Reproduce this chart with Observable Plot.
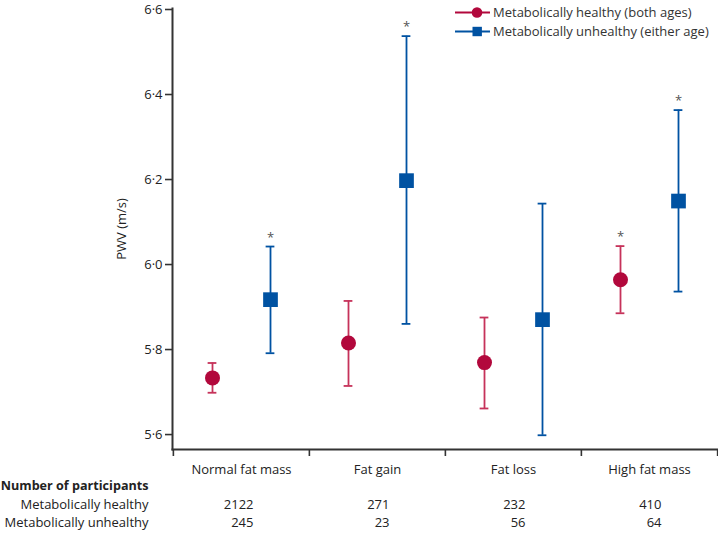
<!DOCTYPE html>
<html>
<head>
<meta charset="utf-8">
<script src="https://cdn.jsdelivr.net/npm/d3@7"></script>
<script src="https://cdn.jsdelivr.net/npm/@observablehq/plot@0.6"></script>
<style>
  html, body { margin: 0; padding: 0; background: #fff; }
</style>
</head>
<body>
<div id="chart"></div>
<script>
// ---- data ----
const categories = ["Normal fat mass", "Fat gain", "Fat loss", "High fat mass"];
const healthyMean = [5.731, 5.813, 5.767, 5.962];
const healthyLow = [5.696, 5.712, 5.659, 5.883];
const healthyHigh = [5.766, 5.912, 5.873, 6.041];
const healthySig = [false, false, false, true];
const unhealthyMean = [5.915, 6.195, 5.868, 6.147];
const unhealthyLow = [5.789, 5.858, 5.596, 5.934];
const unhealthyHigh = [6.040, 6.535, 6.141, 6.361];
const unhealthySig = [true, true, false, true];
const healthyN = [2122, 271, 232, 410];
const unhealthyN = [245, 23, 56, 64];
const yTicks = [5.6, 5.8, 6.0, 6.2, 6.4, 6.6];
const seriesNames = ["Metabolically healthy (both ages)", "Metabolically unhealthy (either age)"];
const rowLabels = ["Number of participants", "Metabolically healthy", "Metabolically unhealthy"];

// ---- build ----
const RED = "#b2083c", RED_BAR = "#c6325a", BLUE = "#0052a2";
const W = 718, H = 535, mL = 172, mR = 1, mT = 8, mB = 86;
const bw = (W - mL - mR) / categories.length;
const off = 29;
const FS = 13;

const healthy = categories.map((c, i) => ({c, m: healthyMean[i], lo: healthyLow[i], hi: healthyHigh[i], sig: healthySig[i], n: healthyN[i]}));
const unhealthy = categories.map((c, i) => ({c, m: unhealthyMean[i], lo: unhealthyLow[i], hi: unhealthyHigh[i], sig: unhealthySig[i], n: unhealthyN[i]}));
const fmt = d => d.toFixed(1).replace(".", "·");
const capInset = (bw - 9) / 2;

function series(data, color, barColor, dx, symbol, r) {
  return [
    Plot.ruleX(data, {x: "c", y1: "lo", y2: "hi", dx, stroke: barColor, strokeWidth: 1.8}),
    Plot.tickY(data, {x: "c", y: "lo", dx, stroke: barColor, strokeWidth: 1.8, insetLeft: capInset, insetRight: capInset}),
    Plot.tickY(data, {x: "c", y: "hi", dx, stroke: barColor, strokeWidth: 1.8, insetLeft: capInset, insetRight: capInset}),
    Plot.dot(data, {x: "c", y: "m", dx, fill: color, stroke: "none", symbol, r}),
    Plot.text(data.filter(d => d.sig), {x: "c", y: "hi", dx, dy: -9, text: () => "*", fill: "#555", fontSize: 13})
  ];
}

const plot = Plot.plot({
  width: W, height: H,
  marginLeft: mL, marginRight: mR, marginTop: mT, marginBottom: mB,
  style: {fontFamily: "'Open Sans', sans-serif", fontSize: FS + "px", color: "#222", background: "#fff", overflow: "visible"},
  x: {domain: categories, padding: 0, axis: null},
  y: {domain: [5.5625, 6.6], axis: null},
  marks: [
    Plot.axisY({ticks: yTicks, tickSize: 7, tickPadding: 3, tickFormat: fmt, label: "PWV (m/s)", labelAnchor: "center", labelArrow: "none", labelOffset: 56, stroke: "#333", strokeWidth: 1.6, fontSize: 13, dy: 1}),
    Plot.axisX({ticks: categories, tickSize: 7, dx: -bw / 2, tickFormat: () => "", label: null, stroke: "#333", strokeWidth: 1.6}),
    Plot.axisX({ticks: [categories[categories.length - 1]], tickSize: 7, dx: bw / 2, tickFormat: () => "", label: null, stroke: "#333", strokeWidth: 1.6}),
    Plot.axisX({tickSize: 0, tickPadding: 15, label: null, fontSize: FS}),
    Plot.frame({anchor: "left", stroke: "#333", strokeWidth: 2}),
    Plot.frame({anchor: "bottom", stroke: "#333", strokeWidth: 2}),
    ...series(healthy, RED, RED_BAR, -off, "circle", 7.5),
    ...series(unhealthy, BLUE, BLUE, off, "square", 8.3),
    Plot.text(healthy, {x: "c", frameAnchor: "bottom", text: d => String(d.n), textAnchor: "end", dx: 12, dy: 59, fontSize: FS}),
    Plot.text(unhealthy, {x: "c", frameAnchor: "bottom", text: d => String(d.n), textAnchor: "end", dx: 12, dy: 77, fontSize: FS}),
    Plot.text([rowLabels[0]], {frameAnchor: "bottom-left", text: d => d, textAnchor: "end", dx: -24, dy: 40, fontWeight: "bold", fontSize: 12.6}),
    Plot.text([rowLabels[1]], {frameAnchor: "bottom-left", text: d => d, textAnchor: "end", dx: -24, dy: 59, fontSize: FS}),
    Plot.text([rowLabels[2]], {frameAnchor: "bottom-left", text: d => d, textAnchor: "end", dx: -24, dy: 77, fontSize: FS})
  ]
});

document.getElementById("chart").appendChild(plot);

// ---- legend (drawn into the SVG) ----
const svg = d3.select(plot);
const lg = svg.append("g")
  .attr("font-family", "'Open Sans', sans-serif")
  .attr("font-size", FS)
  .attr("fill", "#333")
  .attr("text-anchor", "start");
const items = [
  {name: seriesNames[0], color: RED, sym: "circle"},
  {name: seriesNames[1], color: BLUE, sym: "square"}
];
items.forEach((it, i) => {
  const cy = 12.5 + i * 19;
  const g = lg.append("g").attr("transform", `translate(455,${cy})`);
  g.append("line").attr("x1", 0).attr("x2", 35).attr("stroke", it.color).attr("stroke-width", 1.8);
  if (it.sym === "circle") g.append("circle").attr("cx", 22).attr("r", 5.3).attr("fill", it.color);
  else g.append("rect").attr("x", 17.5).attr("y", -4.7).attr("width", 9.4).attr("height", 9.4).attr("fill", it.color);
  g.append("text").attr("x", 38).attr("dy", "0.35em").attr("text-anchor", "start").text(it.name);
});
</script>
</body>
</html>
